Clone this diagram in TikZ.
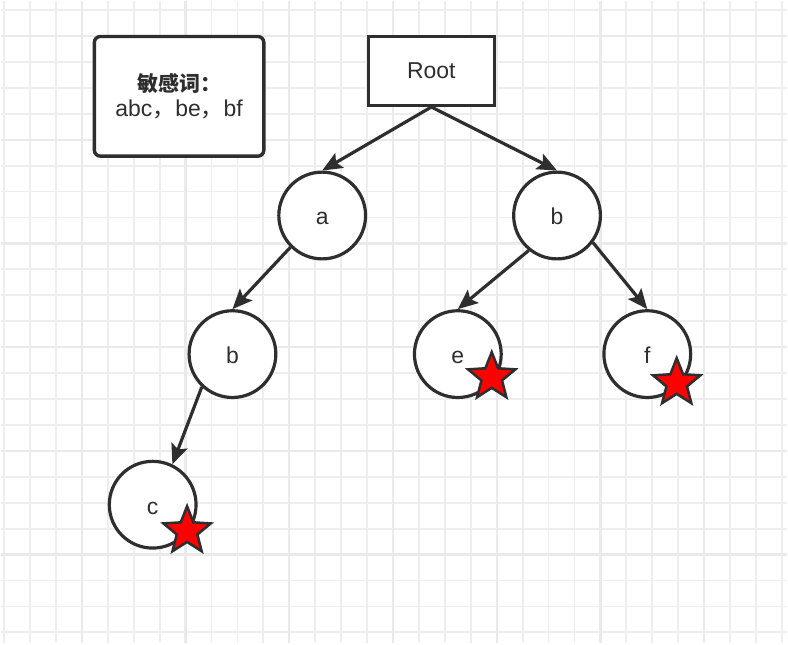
\documentclass[tikz,border=0pt]{standalone}
\usepackage{fontspec}
\setmainfont{Liberation Sans}
\newfontfamily\cjk{Noto Sans CJK SC}
\usetikzlibrary{shapes.geometric,arrows.meta}
\definecolor{ink}{HTML}{2E2E2E}
\definecolor{minorgrid}{HTML}{EEEEEE}
\definecolor{majorgrid}{HTML}{EAEAEA}
\begin{document}
\begin{tikzpicture}[x=1pt,y=-1pt,
		letter/.style={circle,draw=ink,line width=3.2pt,minimum size=87pt,inner sep=0pt,text=ink,text height=19pt,text depth=0pt,font=\fontsize{23}{26}\selectfont},
		hit/.style={star,star points=5,star point ratio=2.3,draw=ink,fill=red,line width=2.5pt,minimum size=50pt,inner sep=0pt},
		link/.style={draw=ink,line width=3.2pt,-{Stealth[length=20pt,width=17pt,inset=4pt]}}]
		\fill[white] (0,0) rectangle (788,644);
		\foreach \x in {3,29,...,783} \draw[minorgrid,line width=1.8pt] (\x,0) -- (\x,644);
		\foreach \y in {9,35,...,633} \draw[minorgrid,line width=1.8pt] (0,\y) -- (788,\y);
		\foreach \x in {81,185,...,705} \draw[majorgrid,line width=2.2pt] (\x,0) -- (\x,644);
		\foreach \y in {35,139,...,555} \draw[majorgrid,line width=2.2pt] (0,\y) -- (788,\y);

		\node[draw=ink,fill=white,line width=3.4pt,rounded corners=6pt,minimum width=170pt,minimum height=120pt,align=center,text=ink,font=\fontsize{23}{25}\selectfont] (words) at (178.5,95.5) {{\cjk\bfseries\fontsize{21}{25}\selectfont 敏感词：}\\abc{\cjk ，}be{\cjk ，}bf};
		\node[draw=ink,fill=white,line width=3.4pt,minimum width=126pt,minimum height=69pt,text=ink,font=\fontsize{23}{26}\selectfont] (root) at (431.5,70) {Root};

		\node[letter,fill=white] (a) at (322,215) {a};
		\node[letter,fill=white] (b) at (557.5,215) {b};
		\node[letter,fill=white] (ab) at (232,354) {b};
		\node[letter,fill=white] (be) at (458,354) {e};
		\node[letter,fill=white] (bf) at (648,354) {f};
		\node[letter,fill=white] (abc) at (152,505) {c};

		\draw[link] (root.south) -- (a.north);
		\draw[link] (root.south) -- (b.north);
		\draw[link] (a.225) -- (ab.north);
		\draw[link] (ab.227) -- (abc.64);
		\draw[link] (b.231) -- (be.north);
		\draw[link] (b.323) -- (bf.north);

		\node[hit] (stare) at (492,377) {};
		\node[hit] (starf) at (677.5,383) {};
		\node[hit] (starc) at (186.5,531.5) {};
	\end{tikzpicture}
\end{document}
